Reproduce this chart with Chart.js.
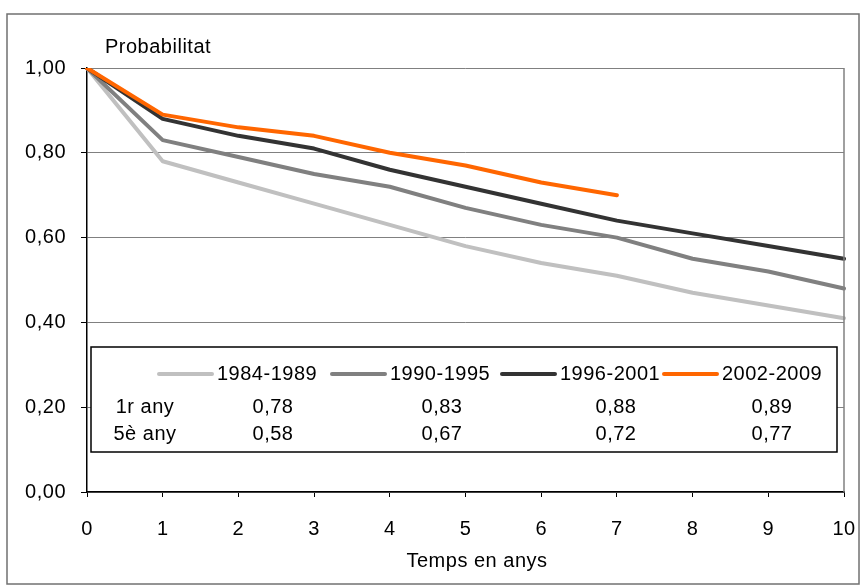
<!DOCTYPE html>
<html>
<head>
<meta charset="utf-8">
<script src="https://cdn.jsdelivr.net/npm/chart.js@4/dist/chart.umd.min.js"></script>
<style>
  body { margin: 0; background: #fff; }
  #wrap { width: 860px; height: 585px; position: relative; }
</style>
</head>
<body>
<div id="wrap"><canvas id="myChart"></canvas></div>
<script>
const years = [0, 1, 2, 3, 4, 5, 6, 7, 8, 9, 10];
const periods = ['1984-1989', '1990-1995', '1996-2001', '2002-2009'];
const serie1984 = [1.00, 0.78, 0.73, 0.68, 0.63, 0.58, 0.54, 0.51, 0.47, 0.44, 0.41];
const serie1990 = [1.00, 0.83, 0.79, 0.75, 0.72, 0.67, 0.63, 0.60, 0.55, 0.52, 0.48];
const serie1996 = [1.00, 0.88, 0.84, 0.81, 0.76, 0.72, 0.68, 0.64, 0.61, 0.58, 0.55];
const serie2002 = [1.00, 0.89, 0.86, 0.84, 0.80, 0.77, 0.73, 0.70];
const rowLabels = ['1r any', '5è any'];
const rowYears = [1, 5];
const yTicks = [0, 0.2, 0.4, 0.6, 0.8, 1.0];

const colors = ['#c0c0c0', '#808080', '#333333', '#ff6600'];
const FONT = 'Liberation Sans, Arial, sans-serif';
const SIZE = 20;
const fmt = v => v.toFixed(2).replace('.', ',');

const seriesList = [serie1984, serie1990, serie1996, serie2002];

// Excel text is a bit wider than plain Arial
const spacing = {
    id: 'spacing',
    beforeLayout(chart) { chart.ctx.letterSpacing = '0.5px'; },
    beforeDraw(chart) { chart.ctx.letterSpacing = '0.5px'; }
};

// legend + data table box, the axis titles and the outer frame
const extras = {
    id: 'extras',
    afterDatasetsDraw(chart) {
        const ctx = chart.ctx;
        const area = chart.chartArea;
        ctx.save();
        ctx.strokeStyle = '#808080';
        ctx.lineWidth = 1.5;
        ctx.beginPath();
        ctx.moveTo(area.right, area.top);
        ctx.lineTo(area.right, area.bottom);
        ctx.stroke();

        const bx = 91, by = 347, bw = 746, bh = 105;
        ctx.fillStyle = '#fff';
        ctx.fillRect(bx, by, bw, bh);
        ctx.strokeStyle = '#000';
        ctx.lineWidth = 1.5;
        ctx.strokeRect(bx, by, bw, bh);

        ctx.font = SIZE + 'px ' + FONT;
        ctx.textBaseline = 'middle';
        const textStart = [217, 390, 560, 722];
        const colCenter = [273, 442, 616, 772];
        periods.forEach((p, i) => {
            ctx.strokeStyle = colors[i];
            ctx.lineWidth = 4;
            ctx.lineCap = 'round';
            ctx.beginPath();
            ctx.moveTo(textStart[i] - 58, 374);
            ctx.lineTo(textStart[i] - 5, 374);
            ctx.stroke();
            ctx.fillStyle = '#000';
            ctx.textAlign = 'left';
            ctx.fillText(p, textStart[i], 374);
        });
        rowLabels.forEach((r, j) => {
            const y = 407 + j * 27;
            ctx.textAlign = 'center';
            ctx.fillText(r, 145, y);
            seriesList.forEach((s, i) => {
                ctx.fillText(fmt(s[rowYears[j]]), colCenter[i], y);
            });
        });

        ctx.textAlign = 'left';
        ctx.fillText('Probabilitat', 105, 47);
        ctx.textAlign = 'center';
        ctx.fillText('Temps en anys', 477, 561);

        ctx.strokeStyle = '#707070';
        ctx.lineWidth = 1.5;
        ctx.strokeRect(7, 14, 852, 570);
        ctx.restore();
    }
};

const ctx = document.getElementById('myChart').getContext('2d');
const myChart = new Chart(ctx, {
    type: 'line',
    data: {
        labels: years,
        datasets: periods.map((p, i) => ({
            label: p,
            data: seriesList[i],
            borderColor: colors[i],
            backgroundColor: colors[i],
            borderWidth: 4,
            pointRadius: 0,
            tension: 0,
            borderCapStyle: 'round',
            borderJoinStyle: 'round',
            order: 3 - i
        }))
    },
    options: {
        responsive: true,
        maintainAspectRatio: false,
        animation: false,
        layout: { padding: { top: 68, right: 16, bottom: 24, left: 0 } },
        plugins: {
            legend: { display: false },
            tooltip: { enabled: false }
        },
        scales: {
            x: {
                type: 'category',
                offset: false,
                afterFit(scale) { scale.paddingLeft = 0; scale.paddingRight = 0; },
                grid: { drawOnChartArea: false, drawTicks: true, tickLength: 5, tickColor: '#000' },
                border: { color: '#000', width: 1.5 },
                ticks: { color: '#000', font: { family: FONT, size: SIZE }, padding: 20, maxRotation: 0, autoSkip: false }
            },
            y: {
                min: 0,
                max: 1,
                afterFit(scale) { scale.width = 87; },
                afterBuildTicks(scale) { scale.ticks = yTicks.map(v => ({ value: v })); },
                grid: { color: '#808080', lineWidth: 1, tickLength: 6, tickColor: '#000' },
                border: { color: '#000', width: 1.5 },
                ticks: { color: '#000', font: { family: FONT, size: SIZE }, padding: 15, callback: v => fmt(v) }
            }
        }
    },
    plugins: [spacing, extras]
});
</script>
</body>
</html>
